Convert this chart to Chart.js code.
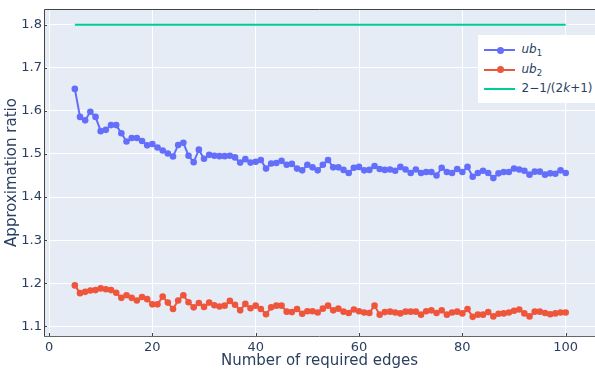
<!DOCTYPE html>
<html>
<head>
<meta charset="utf-8">
<script src="https://cdn.jsdelivr.net/npm/chart.js@4/dist/chart.umd.min.js"></script>
<style>
  html, body { margin: 0; padding: 0; background: #fff; }
  #wrap { position: relative; width: 595px; height: 371px; }
  #legend {
    position: absolute; left: 478px; top: 35px; width: 117px; height: 68px;
    background: #fff; font-family: "DejaVu Sans", sans-serif; font-size: 12px; color: #2a3f5f;
  }
  .row { position: absolute; left: 0; height: 20px; width: 117px; }
  .swatch { position: absolute; left: 6px; top: 9px; width: 31px; height: 2px; }
  .dot { position: absolute; left: 12.5px; top: -2.5px; width: 7px; height: 7px; border-radius: 50%; }
  .lbl { position: absolute; left: 43.5px; top: 2px; white-space: nowrap; line-height: 15px; }
  .lbl sub { font-size: 8.5px; vertical-align: -3px; line-height: 0; }
</style>
</head>
<body>
<div id="wrap">
  <canvas id="c" width="595" height="371"></canvas>
  <div id="legend"></div>
</div>
<script>
// Number of required edges (x values)
const edges = [5,6,7,8,9,10,11,12,13,14,15,16,17,18,19,20,21,22,23,24,25,26,27,28,29,30,
  31,32,33,34,35,36,37,38,39,40,41,42,43,44,45,46,47,48,49,50,51,52,53,54,55,56,57,58,59,60,
  61,62,63,64,65,66,67,68,69,70,71,72,73,74,75,76,77,78,79,80,81,82,83,84,85,86,87,88,89,90,
  91,92,93,94,95,96,97,98,99,100];

// Upper bound ub1
const ub1 = [1.651,1.586,1.578,1.598,1.586,1.553,1.556,1.567,1.567,1.548,1.529,1.537,1.537,1.530,
  1.520,1.523,1.515,1.508,1.501,1.494,1.521,1.526,1.496,1.481,1.510,1.489,1.498,1.496,1.495,1.495,
  1.496,1.492,1.480,1.488,1.480,1.482,1.486,1.466,1.478,1.479,1.484,1.475,1.477,1.466,1.462,1.475,
  1.469,1.462,1.475,1.486,1.469,1.469,1.463,1.456,1.468,1.470,1.462,1.463,1.472,1.465,1.463,1.464,
  1.461,1.470,1.464,1.456,1.464,1.456,1.458,1.458,1.450,1.468,1.458,1.456,1.465,1.458,1.470,1.447,
  1.456,1.461,1.456,1.444,1.455,1.458,1.458,1.466,1.464,1.461,1.452,1.459,1.459,1.452,1.455,1.454,
  1.462,1.456];

// Upper bound ub2
const ub2 = [1.195,1.177,1.180,1.183,1.184,1.188,1.186,1.184,1.178,1.166,1.172,1.166,1.160,1.168,
  1.163,1.151,1.151,1.169,1.155,1.140,1.160,1.172,1.156,1.144,1.154,1.145,1.155,1.149,1.146,1.148,
  1.159,1.150,1.137,1.152,1.142,1.148,1.140,1.128,1.144,1.148,1.148,1.134,1.133,1.140,1.129,1.135,
  1.135,1.132,1.141,1.148,1.137,1.141,1.134,1.131,1.139,1.135,1.132,1.131,1.148,1.127,1.133,1.134,
  1.132,1.130,1.134,1.134,1.134,1.127,1.135,1.137,1.131,1.137,1.127,1.132,1.134,1.130,1.140,1.122,
  1.127,1.127,1.133,1.123,1.129,1.130,1.132,1.136,1.139,1.130,1.123,1.134,1.134,1.131,1.128,1.130,
  1.132,1.132];

// Constant bound 2 - 1/(2k+1)
const boundX = [5, 100];
const boundY = [1.8, 1.8];

// Axis tick values
const xTickValues = [0, 20, 40, 60, 80, 100];
const yTickValues = [1.1, 1.2, 1.3, 1.4, 1.5, 1.6, 1.7, 1.8];

// Legend labels (HTML, with subscripts / italics)
const legendLabels = ['<i>ub</i><sub>1</sub>', '<i>ub</i><sub>2</sub>', '2\u22121/(2<i>k</i>+1)'];

const colors = ['#636efa', '#ef553b', '#00cc96'];
const FONT = '"DejaVu Sans", sans-serif';
const TEXT = '#2a3f5f';

const toPoints = (xs, ys) => xs.map((x, i) => ({ x: x, y: ys[i] }));

// Plot background, frame and inward tick marks
const plotDecor = {
  id: 'plotDecor',
  beforeDraw(chart) {
    const a = chart.chartArea, ctx = chart.ctx;
    ctx.save();
    ctx.fillStyle = '#e5ecf6';
    ctx.fillRect(a.left, a.top, a.right - a.left, a.bottom - a.top);
    ctx.restore();
  },
  afterDraw(chart) {
    const a = chart.chartArea, ctx = chart.ctx;
    const xs = chart.scales.x, ys = chart.scales.y;
    ctx.save();
    ctx.strokeStyle = '#444';
    ctx.lineWidth = 1;
    ctx.beginPath();
    ctx.moveTo(a.left + 0.5, a.bottom);
    ctx.lineTo(a.left + 0.5, a.top + 0.5);
    ctx.lineTo(a.right, a.top + 0.5);
    ctx.stroke();
    ctx.strokeStyle = '#666';
    ctx.beginPath();
    ctx.moveTo(a.left, a.bottom + 0.5);
    ctx.lineTo(a.right, a.bottom + 0.5);
    ctx.stroke();
    ctx.strokeStyle = '#444';
    ctx.beginPath();
    xTickValues.forEach(v => {
      const px = Math.round(xs.getPixelForValue(v)) + 0.5;
      ctx.moveTo(px, a.bottom);
      ctx.lineTo(px, a.bottom - 3);
    });
    yTickValues.forEach(v => {
      const py = Math.round(ys.getPixelForValue(v)) + 0.5;
      ctx.moveTo(a.left, py);
      ctx.lineTo(a.left + 3, py);
    });
    ctx.stroke();
    ctx.restore();
  }
};

const chart = new Chart(document.getElementById('c'), {
  type: 'line',
  data: {
    datasets: [
      {
        label: 'ub1',
        data: toPoints(edges, ub1),
        borderColor: colors[0], backgroundColor: colors[0],
        borderWidth: 2, pointRadius: 3.3, pointBorderWidth: 0,
        pointBackgroundColor: colors[0], tension: 0
      },
      {
        label: 'ub2',
        data: toPoints(edges, ub2),
        borderColor: colors[1], backgroundColor: colors[1],
        borderWidth: 2, pointRadius: 3.3, pointBorderWidth: 0,
        pointBackgroundColor: colors[1], tension: 0
      },
      {
        label: '2-1/(2k+1)',
        data: toPoints(boundX, boundY),
        borderColor: colors[2], backgroundColor: colors[2],
        borderWidth: 2, pointRadius: 0, tension: 0
      }
    ]
  },
  options: {
    responsive: false,
    animation: false,
    events: [],
    layout: { autoPadding: false, padding: { top: 9, left: 0, right: 0, bottom: 0 } },
    plugins: { legend: { display: false }, tooltip: { enabled: false } },
    scales: {
      x: {
        type: 'linear',
        min: -0.97, max: 105.67,
        afterBuildTicks: s => { s.ticks = xTickValues.map(v => ({ value: v })); },
        afterFit: s => { s.height = 35; s.paddingLeft = 0; s.paddingRight = 0; },
        grid: { color: '#ffffff', lineWidth: 1, drawTicks: false },
        border: { display: false },
        ticks: {
          color: TEXT, font: { family: FONT, size: 13 }, padding: 4,
          maxRotation: 0, autoSkip: false,
          callback: v => String(v)
        },
        title: {
          display: true, text: 'Number of required edges', color: TEXT,
          font: { family: FONT, size: 15 }, padding: { top: 0, bottom: 1 }
        }
      },
      y: {
        type: 'linear',
        min: 1.0775, max: 1.8365,
        afterBuildTicks: s => { s.ticks = yTickValues.map(v => ({ value: v })); },
        afterFit: s => { s.width = 44; s.paddingTop = 0; s.paddingBottom = 0; },
        grid: { color: '#ffffff', lineWidth: 1, drawTicks: false },
        border: { display: false },
        ticks: {
          color: TEXT, font: { family: FONT, size: 13 }, padding: 2,
          autoSkip: false,
          callback: v => Number(v).toFixed(1)
        },
        title: {
          display: true, text: 'Approximation ratio', color: TEXT,
          font: { family: FONT, size: 15 }, padding: { top: 3, bottom: 0 }
        }
      }
    }
  },
  plugins: [plotDecor]
});

// Legend built from the datasets' colours and markers
const legend = document.getElementById('legend');
chart.data.datasets.forEach((ds, i) => {
  const row = document.createElement('div');
  row.className = 'row';
  row.style.top = (5 + i * 19.5) + 'px';
  const sw = document.createElement('div');
  sw.className = 'swatch';
  sw.style.background = ds.borderColor;
  if (ds.pointRadius > 0) {
    const dot = document.createElement('div');
    dot.className = 'dot';
    dot.style.background = ds.borderColor;
    sw.appendChild(dot);
  }
  const lbl = document.createElement('div');
  lbl.className = 'lbl';
  lbl.innerHTML = legendLabels[i];
  row.appendChild(sw);
  row.appendChild(lbl);
  legend.appendChild(row);
});
</script>
</body>
</html>
